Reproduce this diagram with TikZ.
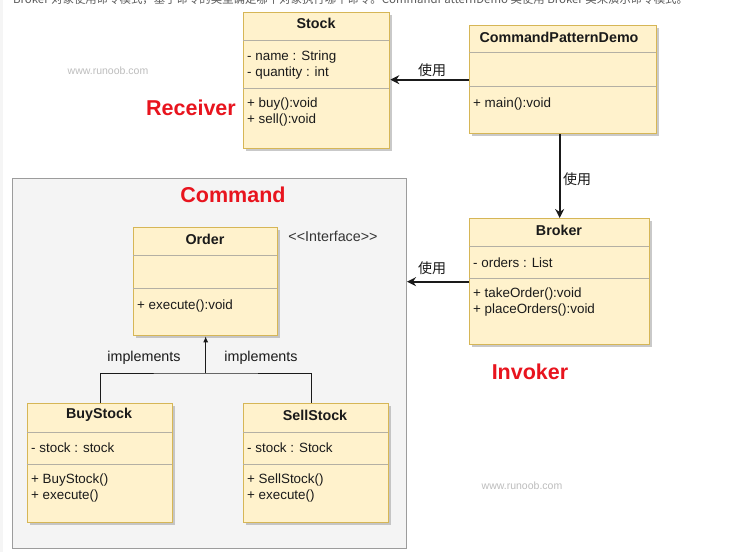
\documentclass[tikz,border=0pt]{standalone}
\usepackage{fontspec}
\setmainfont{Liberation Sans}
\newfontfamily\cjk{Noto Sans CJK SC}
\usetikzlibrary{arrows.meta,shadows,calc}
\definecolor{boxfill}{HTML}{FFF2CC}
\definecolor{boxline}{HTML}{D6B656}
\definecolor{sepline}{HTML}{B4B0A4}
\definecolor{grpfill}{HTML}{F4F4F4}
\definecolor{grpline}{HTML}{9C9C9C}
\definecolor{redlbl}{HTML}{E8141E}
\definecolor{txt}{HTML}{1A1A1A}
\definecolor{wm}{HTML}{BDBDBD}
\begin{document}
\begin{tikzpicture}[x=1pt,y=-1pt,
  cls/.style={draw=boxline,fill=boxfill,line width=1.3pt,anchor=north west,inner sep=0pt,
    drop shadow={shadow xshift=2.5pt,shadow yshift=-2.5pt,fill=black!35,opacity=0.6}},
  grp/.style={draw=grpline,fill=grpfill,line width=1pt,anchor=north west,inner sep=0pt},
  sep/.style={draw=sepline,line width=1pt},
  ttl/.style={font=\fontsize{14.3}{17}\selectfont\bfseries,text=txt,inner sep=0pt},
  mem/.style={font=\fontsize{13.4}{16}\selectfont,text=txt,anchor=west,inner sep=0pt},
  lbl/.style={font=\fontsize{14.3}{17}\selectfont,text=txt,inner sep=0pt},
  rl/.style={font=\fontsize{21.5}{25}\selectfont\bfseries,text=redlbl,inner sep=0pt},
  use/.style={font=\fontsize{14}{17}\selectfont\cjk,text=txt,inner sep=0pt},
  uarr/.style={draw=txt,line width=1.7pt,-{Stealth[length=9pt,width=9pt,inset=3pt]}},
  iarr/.style={draw=txt,line width=1pt},
  wmk/.style={font=\fontsize{10.5}{12}\selectfont,text=wm,inner sep=0pt}]
\useasboundingbox (0,0) rectangle (743,552);
\fill[white] (0,0) rectangle (743,552);
\fill[black!4] (0,0) rectangle (3,552);
% clipped top sentence
\begin{scope}
\clip (0,0) rectangle (743,552);
\node[anchor=base west,inner sep=0pt,text=black!65,font=\fontsize{11.4}{14}\selectfont\cjk] (intro) at (13,3.5)
  {Broker 对象使用命令模式，基于命令的类型确定哪个对象执行哪个命令。CommandPatternDemo 类使用 Broker 类来演示命令模式。};
\end{scope}
% group
\node[grp,minimum width=394pt,minimum height=370pt] (cmdgrp) at (12,178) {};
% watermarks
\node[wmk] (wm1) at (108,71) {www.runoob.com};
\node[wmk] (wm2) at (522,486) {www.runoob.com};
% Stock
\node[cls,minimum width=146pt,minimum height=136pt] (stock) at (243,12) {};
\draw[sep] (243,40) -- (389,40);
\draw[sep] (243,88) -- (389,88);
\node[ttl] (stockt) at (316,23) {Stock};
\node[mem] (stock1) at (247,57) {- name : String};
\node[mem] (stock2) at (247,73) {- quantity : int};
\node[mem] (stock3) at (247,104) {+ buy():void};
\node[mem] (stock4) at (247,120) {+ sell():void};
% CommandPatternDemo
\node[cls,minimum width=187pt,minimum height=108pt] (cpd) at (469,25) {};
\draw[sep] (469,52) -- (656,52);
\draw[sep] (469,86) -- (656,86);
\node[ttl] (cpdt) at (559,37) {CommandPatternDemo};
\node[mem] (cpd1) at (473,104) {+ main():void};
% Broker
\node[cls,minimum width=180pt,minimum height=126pt] (broker) at (469,218) {};
\draw[sep] (469,246) -- (649,246);
\draw[sep] (469,278) -- (649,278);
\node[ttl] (brokert) at (559,230) {Broker};
\node[mem] (broker1) at (473,263) {- orders : List};
\node[mem] (broker2) at (473,294) {+ takeOrder():void};
\node[mem] (broker3) at (473,310) {+ placeOrders():void};
% Order
\node[cls,minimum width=144pt,minimum height=108pt] (order) at (133,227) {};
\draw[sep] (133,255) -- (277,255);
\draw[sep] (133,288) -- (277,288);
\node[ttl] (ordert) at (205,239) {Order};
\node[mem] (order1) at (137,306) {+ execute():void};
\node[lbl,text=black!80] (iface) at (333,236) {<{}<Interface>{}>};
% BuyStock
\node[cls,minimum width=145pt,minimum height=119pt] (buy) at (27,403) {};
\draw[sep] (27,432) -- (172,432);
\draw[sep] (27,464) -- (172,464);
\node[ttl] (buyt) at (99,415) {BuyStock};
\node[mem] (buy1) at (31,448) {- stock : stock};
\node[mem] (buy2) at (31,480) {+ BuyStock()};
\node[mem] (buy3) at (31,496) {+ execute()};
% SellStock
\node[cls,minimum width=145pt,minimum height=119pt] (sell) at (243,403) {};
\draw[sep] (243,432) -- (388,432);
\draw[sep] (243,464) -- (388,464);
\node[ttl] (sellt) at (315,415) {SellStock};
\node[mem] (sell1) at (247,448) {- stock : Stock};
\node[mem] (sell2) at (247,480) {+ SellStock()};
\node[mem] (sell3) at (247,496) {+ execute()};
% red labels
\node[rl] (recv) at (191,108) {Receiver};
\node[rl] (cmdl) at (233,195) {Command};
\node[rl] (invk) at (530,372) {Invoker};
% connectors
\draw[uarr] (cpd.west) -- (cpd.west -| stock.east);
\node[use] (use1) at (432,70) {使用};
\draw[uarr] (broker.north |- cpd.south) -- (broker.north);
\node[use] (use2) at (577,179) {使用};
\draw[uarr] (broker.west) -- (broker.west -| cmdgrp.east);
\node[use] (use3) at (432,268) {使用};
\coordinate (junc) at (order.south |- 0,373);
\coordinate (sellin) at (311,403);
\draw[iarr] (buy.north) |- (junc) -| (sellin);
\draw[iarr,-{Latex[length=6pt,width=5pt]}] (junc) -- (order.south);
\node[lbl] (impl1) at (144,358) {implements};
\node[lbl] (impl2) at (261,358) {implements};
\end{tikzpicture}
\end{document}
